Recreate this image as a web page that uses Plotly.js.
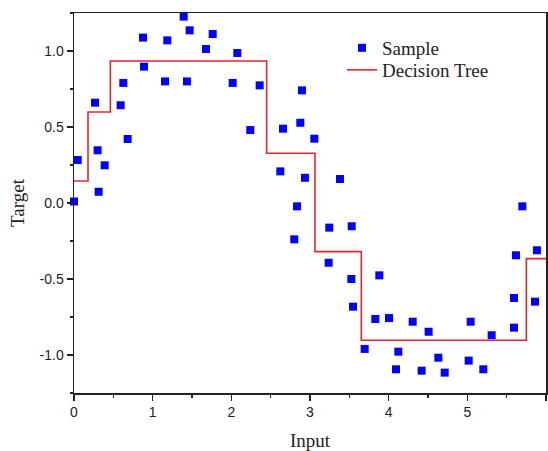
<!DOCTYPE html>
<html>
<head>
<meta charset="utf-8">
<script src="https://cdn.plot.ly/plotly-3.0.1.min.js"></script>
<style>html,body{margin:0;padding:0;background:#fff;}#chart{width:548px;height:451px;}</style>
</head>
<body>
<div id="chart"></div>
<script>
const sampleX = [0, 0.047, 0.267, 0.30, 0.313, 0.39, 0.593, 0.627, 0.682, 0.877, 0.89, 1.157, 1.186, 1.394, 1.436, 1.47, 1.678, 1.763, 2.017, 2.076, 2.241, 2.36, 2.623, 2.657, 2.80, 2.835, 2.877, 2.898, 2.936, 3.055, 3.237, 3.245, 3.381, 3.525, 3.53, 3.547, 3.695, 3.83, 3.881, 4.004, 4.093, 4.123, 4.305, 4.419, 4.508, 4.631, 4.712, 5.017, 5.042, 5.203, 5.309, 5.593, 5.593, 5.618, 5.699, 5.86, 5.885];
const sampleY = [0.01, 0.283, 0.66, 0.347, 0.074, 0.248, 0.643, 0.79, 0.421, 1.088, 0.897, 0.80, 1.07, 1.226, 0.80, 1.136, 1.013, 1.112, 0.79, 0.987, 0.48, 0.774, 0.208, 0.489, -0.239, -0.022, 0.528, 0.741, 0.166, 0.423, -0.393, -0.162, 0.158, -0.50, -0.153, -0.682, -0.96, -0.763, -0.476, -0.757, -1.094, -0.978, -0.781, -1.103, -0.847, -1.018, -1.116, -1.037, -0.781, -1.094, -0.87, -0.625, -0.82, -0.344, -0.022, -0.649, -0.311];
const treeX = [0, 0.178, 0.462, 2.449, 3.063, 3.652, 5.75, 6];
const treeY = [0.145, 0.599, 0.934, 0.327, -0.32, -0.903, -0.366, -0.366];
const xTicks = [0, 1, 2, 3, 4, 5, 6];
const yTicks = [-1.0, -0.5, 0.0, 0.5, 1.0];
const yTickText = ['-1.0', '-0.5', '0.0', '0.5', '1.0'];

const serif = 'Liberation Serif, Times New Roman, serif';
const traces = [
  {x: sampleX, y: sampleY, type: 'scatter', mode: 'markers', name: 'Sample', legend: 'legend',
   marker: {symbol: 'square', size: 8, color: '#0000ff'}, cliponaxis: false},
  {x: treeX, y: treeY, type: 'scatter', mode: 'lines', name: 'Decision Tree', legend: 'legend2',
   line: {shape: 'hv', color: '#e8252d', width: 1.6}}
];

const axisCommon = {
  showgrid: false, zeroline: false, showline: true, mirror: true,
  linecolor: '#222', linewidth: 1.5, ticks: 'outside', ticklen: 6, tickwidth: 1.3, tickcolor: '#222',
  tickfont: {family: 'Liberation Sans, Arial, sans-serif', size: 14, color: '#222'}
};
const legendCommon = {xanchor: 'left', yanchor: 'top', bgcolor: 'rgba(0,0,0,0)',
  font: {family: serif, size: 19, color: '#222'}};

const layout = {
  width: 548, height: 451,
  margin: {l: 74, r: 2, t: 13, b: 58},
  paper_bgcolor: '#fff', plot_bgcolor: '#fff',
  showlegend: true,
  legend: Object.assign({x: 0.5678, y: 0.958}, legendCommon),
  legend2: Object.assign({x: 0.5678, y: 0.9}, legendCommon),
  xaxis: Object.assign({}, axisCommon, {
    range: [0, 6], tickvals: xTicks, ticktext: xTicks.map(String),
    minor: {dtick: 0.5, ticks: 'outside', ticklen: 3, tickwidth: 1.2, tickcolor: '#222'},
    title: {text: 'Input', standoff: 14, font: {family: serif, size: 19, color: '#222'}}
  }),
  yaxis: Object.assign({}, axisCommon, {
    range: [-1.25, 1.25], tickvals: yTicks, ticktext: yTickText,
    minor: {dtick: 0.25, ticks: 'outside', ticklen: 3, tickwidth: 1.2, tickcolor: '#222'},
    title: {text: 'Target', standoff: 10, font: {family: serif, size: 19, color: '#222'}}
  })
};

Plotly.newPlot('chart', traces, layout, {displayModeBar: false, staticPlot: true});
</script>
</body>
</html>
